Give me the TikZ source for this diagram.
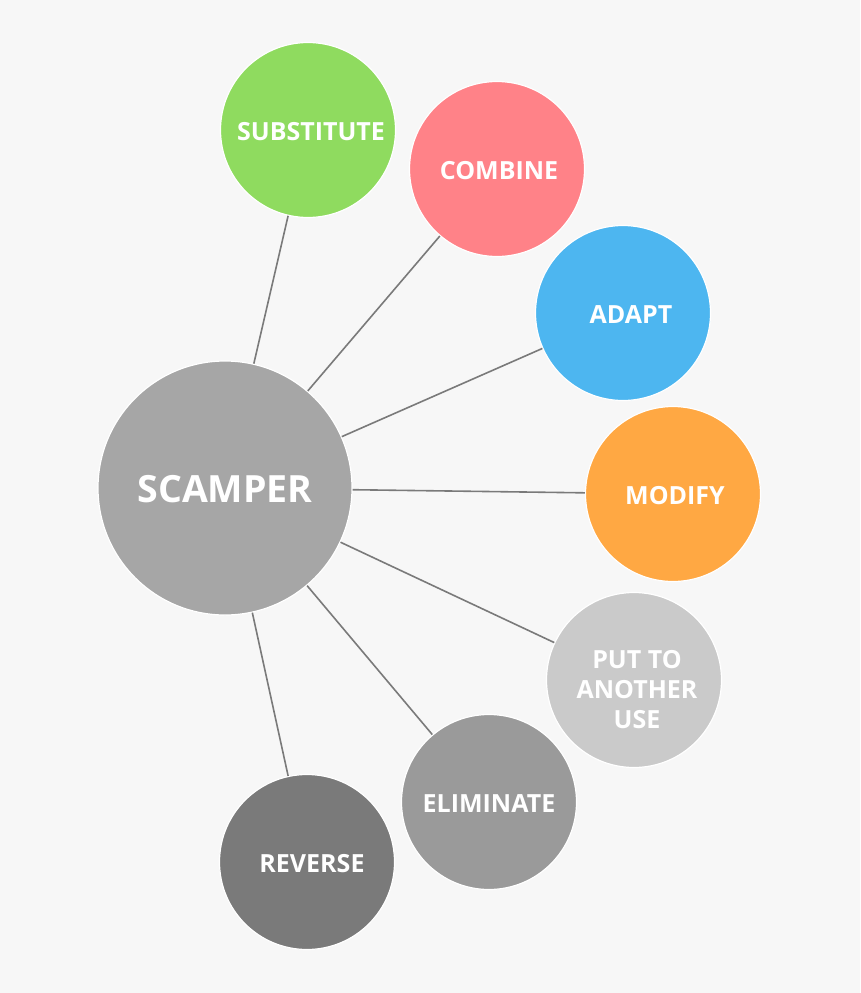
\documentclass[tikz,border=0pt]{standalone}
\usepackage[table]{xcolor}
\usepackage{tikz}
\usepackage{fontspec}
\setmainfont{Open Sans}
\definecolor{bgcol}{HTML}{F7F7F7}
\definecolor{linecol}{HTML}{7A7A7A}
\definecolor{scampercol}{HTML}{A6A6A6}
\definecolor{subcol}{HTML}{8FDB5F}
\definecolor{combcol}{HTML}{FF8288}
\definecolor{adaptcol}{HTML}{4DB6F0}
\definecolor{modcol}{HTML}{FFA843}
\definecolor{putcol}{HTML}{CACACA}
\definecolor{elimcol}{HTML}{9A9A9A}
\definecolor{revcol}{HTML}{7A7A7A}
\tikzset{
	bubble/.style={circle, draw=white, line width=1.2pt, inner sep=0pt, minimum size=175pt},
	hub/.style={bubble, minimum size=254pt},
	word/.style={text=white, inner sep=0pt, yshift=-2pt, font=\bfseries\fontsize{25}{30}\selectfont, align=center},
	bigword/.style={word, yshift=1pt, font=\bfseries\fontsize{37.5}{42}\selectfont},
	spoke/.style={draw=linecol, line width=1.6pt}
}

\begin{document}
\begin{tikzpicture}[x=1pt,y=-1pt]
			{\fill[bgcol] (0,0) rectangle (860,993);}
			{\node[hub, fill=scampercol, label={[bigword]center:SCAMPER}] (scamper) at (225,488) {};}
			{\node[bubble, fill=subcol, label={[word, xshift=3pt]center:SUBSTITUTE}] (substitute) at (308,130) {};}
			{\node[bubble, fill=combcol, label={[word, xshift=2pt]center:COMBINE}] (combine) at (497,169) {};}
			{\node[bubble, fill=adaptcol, label={[word, xshift=8pt]center:ADAPT}] (adapt) at (623,313) {};}
			{\node[bubble, fill=modcol, label={[word, xshift=2pt]center:MODIFY}] (modify) at (673,494) {};}
			{\node[bubble, fill=putcol, label={[word, xshift=3pt, yshift=-8pt]center:PUT TO\\ANOTHER\\USE}] (putuse) at (634,680) {};}
			{\node[bubble, fill=elimcol, label={[word]center:ELIMINATE}] (eliminate) at (489,802) {};}
			{\node[bubble, fill=revcol, label={[word, xshift=5pt]center:REVERSE}] (reverse) at (307,862) {};}
			%{\draw (scamper) -- (scamper);}
			{\foreach \n in {substitute,combine,adapt,modify,putuse,eliminate,reverse}
				\draw[spoke] (scamper) -- (\n);}
		\end{tikzpicture}
\end{document}
